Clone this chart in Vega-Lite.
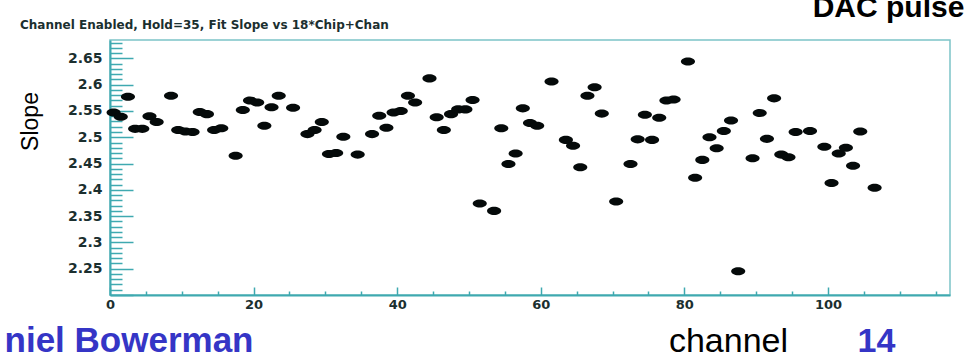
{
  "$schema": "https://vega.github.io/schema/vega-lite/v6.json",
  "width": 840,
  "height": 255,
  "autosize": {"type": "none"},
  "padding": {"left": 110, "top": 40, "right": 24, "bottom": 59},
  "background": "white",
  "title": {
    "text": "Channel Enabled, Hold=35, Fit Slope vs 18*Chip+Chan",
    "anchor": "start",
    "frame": "group",
    "dx": -90,
    "dy": 49,
    "offset": 0,
    "baseline": "alphabetic",
    "font": "DejaVu Sans",
    "fontSize": 12,
    "fontWeight": "bold",
    "color": "#1b2f2f"
  },
  "config": {
    "view": {"stroke": "#7cc4c8", "strokeWidth": 1.5},
    "axis": {"grid": false}
  },
  "data": {
    "values": [
      {"chan": 0.5, "slope": 2.547}, {"chan": 1.5, "slope": 2.539}, {"chan": 2.5, "slope": 2.577},
      {"chan": 3.5, "slope": 2.516}, {"chan": 4.5, "slope": 2.516}, {"chan": 5.5, "slope": 2.540},
      {"chan": 6.5, "slope": 2.529}, {"chan": 8.5, "slope": 2.579}, {"chan": 9.5, "slope": 2.514},
      {"chan": 10.5, "slope": 2.511}, {"chan": 11.5, "slope": 2.510}, {"chan": 12.5, "slope": 2.548},
      {"chan": 13.5, "slope": 2.544}, {"chan": 14.5, "slope": 2.514}, {"chan": 15.5, "slope": 2.517},
      {"chan": 17.5, "slope": 2.465}, {"chan": 18.5, "slope": 2.552}, {"chan": 19.5, "slope": 2.570},
      {"chan": 20.5, "slope": 2.566}, {"chan": 21.5, "slope": 2.522}, {"chan": 22.5, "slope": 2.557},
      {"chan": 23.5, "slope": 2.579}, {"chan": 25.5, "slope": 2.556}, {"chan": 27.5, "slope": 2.506},
      {"chan": 28.5, "slope": 2.514}, {"chan": 29.5, "slope": 2.529}, {"chan": 30.5, "slope": 2.468},
      {"chan": 31.5, "slope": 2.470}, {"chan": 32.5, "slope": 2.501}, {"chan": 34.5, "slope": 2.467},
      {"chan": 36.5, "slope": 2.506}, {"chan": 37.5, "slope": 2.541}, {"chan": 38.5, "slope": 2.518},
      {"chan": 39.5, "slope": 2.547}, {"chan": 40.5, "slope": 2.550}, {"chan": 41.5, "slope": 2.579},
      {"chan": 42.5, "slope": 2.566}, {"chan": 44.5, "slope": 2.612}, {"chan": 45.5, "slope": 2.538},
      {"chan": 46.5, "slope": 2.514}, {"chan": 47.5, "slope": 2.544}, {"chan": 48.5, "slope": 2.553},
      {"chan": 49.5, "slope": 2.553}, {"chan": 50.5, "slope": 2.571}, {"chan": 51.5, "slope": 2.374},
      {"chan": 53.5, "slope": 2.360}, {"chan": 54.5, "slope": 2.517}, {"chan": 55.5, "slope": 2.449},
      {"chan": 56.5, "slope": 2.469}, {"chan": 57.5, "slope": 2.555}, {"chan": 58.5, "slope": 2.527},
      {"chan": 59.5, "slope": 2.522}, {"chan": 61.5, "slope": 2.606}, {"chan": 63.5, "slope": 2.495},
      {"chan": 64.5, "slope": 2.484}, {"chan": 65.5, "slope": 2.443}, {"chan": 66.5, "slope": 2.579},
      {"chan": 67.5, "slope": 2.595}, {"chan": 68.5, "slope": 2.545}, {"chan": 70.5, "slope": 2.378},
      {"chan": 72.5, "slope": 2.449}, {"chan": 73.5, "slope": 2.496}, {"chan": 74.5, "slope": 2.543},
      {"chan": 75.5, "slope": 2.495}, {"chan": 76.5, "slope": 2.537}, {"chan": 77.5, "slope": 2.570},
      {"chan": 78.5, "slope": 2.572}, {"chan": 80.5, "slope": 2.644}, {"chan": 81.5, "slope": 2.423},
      {"chan": 82.5, "slope": 2.457}, {"chan": 83.5, "slope": 2.500}, {"chan": 84.5, "slope": 2.479},
      {"chan": 85.5, "slope": 2.512}, {"chan": 86.5, "slope": 2.532}, {"chan": 87.5, "slope": 2.245},
      {"chan": 89.5, "slope": 2.460}, {"chan": 90.5, "slope": 2.546}, {"chan": 91.5, "slope": 2.497},
      {"chan": 92.5, "slope": 2.574}, {"chan": 93.5, "slope": 2.467}, {"chan": 94.5, "slope": 2.462},
      {"chan": 95.5, "slope": 2.510}, {"chan": 97.5, "slope": 2.512}, {"chan": 99.5, "slope": 2.482},
      {"chan": 100.5, "slope": 2.413}, {"chan": 101.5, "slope": 2.469}, {"chan": 102.5, "slope": 2.480},
      {"chan": 103.5, "slope": 2.446}, {"chan": 104.5, "slope": 2.511}, {"chan": 106.5, "slope": 2.404}
    ]
  },
  "layer": [
    {
      "mark": {
        "type": "point",
        "shape": "M-1,0A1,0.57,0,1,0,1,0A1,0.57,0,1,0,-1,0Z",
        "filled": true,
        "size": 200,
        "color": "#050a0a",
        "opacity": 1
      },
      "encoding": {
        "x": {
          "field": "chan",
          "type": "quantitative",
          "scale": {"domain": [0, 117], "nice": false, "zero": false},
          "axis": {
            "orient": "bottom",
            "values": [0, 20, 40, 60, 80, 100],
            "format": "d",
            "tickSize": -8,
            "tickColor": "#3fa9b0",
            "tickWidth": 1.5,
            "domainColor": "#3fa9b0",
            "domainWidth": 2,
            "labelFont": "DejaVu Sans",
            "labelFontSize": 13,
            "labelFontWeight": "bold",
            "labelColor": "#1b2f2f",
            "labelPadding": 11,
            "labelFlush": false,
            "labelOverlap": false,
            "title": "channel",
            "titleX": 618,
            "titleY": 56,
            "titleAlign": "center",
            "titleBaseline": "alphabetic",
            "titleFont": "Liberation Sans",
            "titleFontSize": 34,
            "titleFontWeight": "normal",
            "titleColor": "#000000"
          }
        },
        "y": {
          "field": "slope",
          "type": "quantitative",
          "scale": {"domain": [2.2, 2.685], "nice": false, "zero": false},
          "axis": {
            "orient": "left",
            "values": [2.2, 2.25, 2.3, 2.35, 2.4, 2.45, 2.5, 2.55, 2.6, 2.65],
            "labelExpr": "datum.value > 2.22 ? format(datum.value, '.2~f') : ''",
            "tickSize": -23,
            "tickColor": "#3fa9b0",
            "tickWidth": 1.5,
            "domainColor": "#3fa9b0",
            "domainWidth": 2,
            "labelFont": "DejaVu Sans",
            "labelFontSize": 14,
            "labelFontWeight": "bold",
            "labelColor": "#1b2f2f",
            "labelPadding": 31,
            "labelOverlap": false,
            "labelFlush": false,
            "title": "Slope",
            "titleX": -73,
            "titleY": 81,
            "titleAngle": 270,
            "titleAlign": "center",
            "titleBaseline": "alphabetic",
            "titleFont": "Liberation Sans",
            "titleFontSize": 23,
            "titleFontWeight": "normal",
            "titleColor": "#000000"
          }
        }
      }
    },
    {
      "mark": {"type": "point", "opacity": 0},
      "encoding": {
        "x": {
          "field": "chan",
          "type": "quantitative",
          "scale": {"domain": [0, 117], "nice": false, "zero": false},
          "axis": {
            "orient": "top",
            "domain": false,
            "ticks": false,
            "labels": false,
            "title": "DAC pulse",
            "titleX": 778,
            "titleY": -24,
            "titleAlign": "center",
            "titleBaseline": "alphabetic",
            "titleFont": "Liberation Sans",
            "titleFontSize": 30,
            "titleFontWeight": "bold",
            "titleColor": "#000000"
          }
        },
        "y": {
          "field": "slope",
          "type": "quantitative",
          "scale": {"domain": [2.2, 2.685], "nice": false, "zero": false},
          "axis": {
            "orient": "right",
            "domain": false,
            "ticks": false,
            "labels": false,
            "title": "14",
            "titleAngle": 0,
            "titleX": -74,
            "titleY": 311,
            "titleAlign": "center",
            "titleBaseline": "alphabetic",
            "titleFont": "Liberation Sans",
            "titleFontSize": 34,
            "titleFontWeight": "bold",
            "titleColor": "#3535c6"
          }
        }
      }
    },
    {
      "mark": {"type": "point", "opacity": 0},
      "encoding": {
        "x": {
          "field": "chan",
          "type": "quantitative",
          "scale": {"domain": [0, 117], "nice": false, "zero": false},
          "axis": {
            "orient": "bottom",
            "domain": false,
            "values": [5, 10, 15, 25, 30, 35, 45, 50, 55, 65, 70, 75, 85, 90, 95, 105, 110, 115],
            "tickSize": -4,
            "tickColor": "#3fa9b0",
            "tickWidth": 1.5,
            "labels": false,
            "title": "niel Bowerman",
            "titleX": 143,
            "titleY": 56,
            "titleAlign": "right",
            "titleBaseline": "alphabetic",
            "titleFont": "Liberation Sans",
            "titleFontSize": 35,
            "titleFontWeight": "bold",
            "titleColor": "#3535c6"
          }
        },
        "y": {
          "field": "slope",
          "type": "quantitative",
          "scale": {"domain": [2.2, 2.685], "nice": false, "zero": false},
          "axis": {
            "orient": "left",
            "domain": false,
            "values": [2.21, 2.22, 2.23, 2.24, 2.26, 2.27, 2.28, 2.29, 2.31, 2.32, 2.33, 2.34, 2.36, 2.37, 2.38, 2.39, 2.41, 2.42, 2.43, 2.44, 2.46, 2.47, 2.48, 2.49, 2.51, 2.52, 2.53, 2.54, 2.56, 2.57, 2.58, 2.59, 2.61, 2.62, 2.63, 2.64, 2.66, 2.67, 2.68],
            "tickSize": -12,
            "tickColor": "#3fa9b0",
            "tickWidth": 1.5,
            "labels": false,
            "title": null
          }
        }
      }
    }
  ],
  "resolve": {"scale": {"x": "independent", "y": "independent"}}
}
